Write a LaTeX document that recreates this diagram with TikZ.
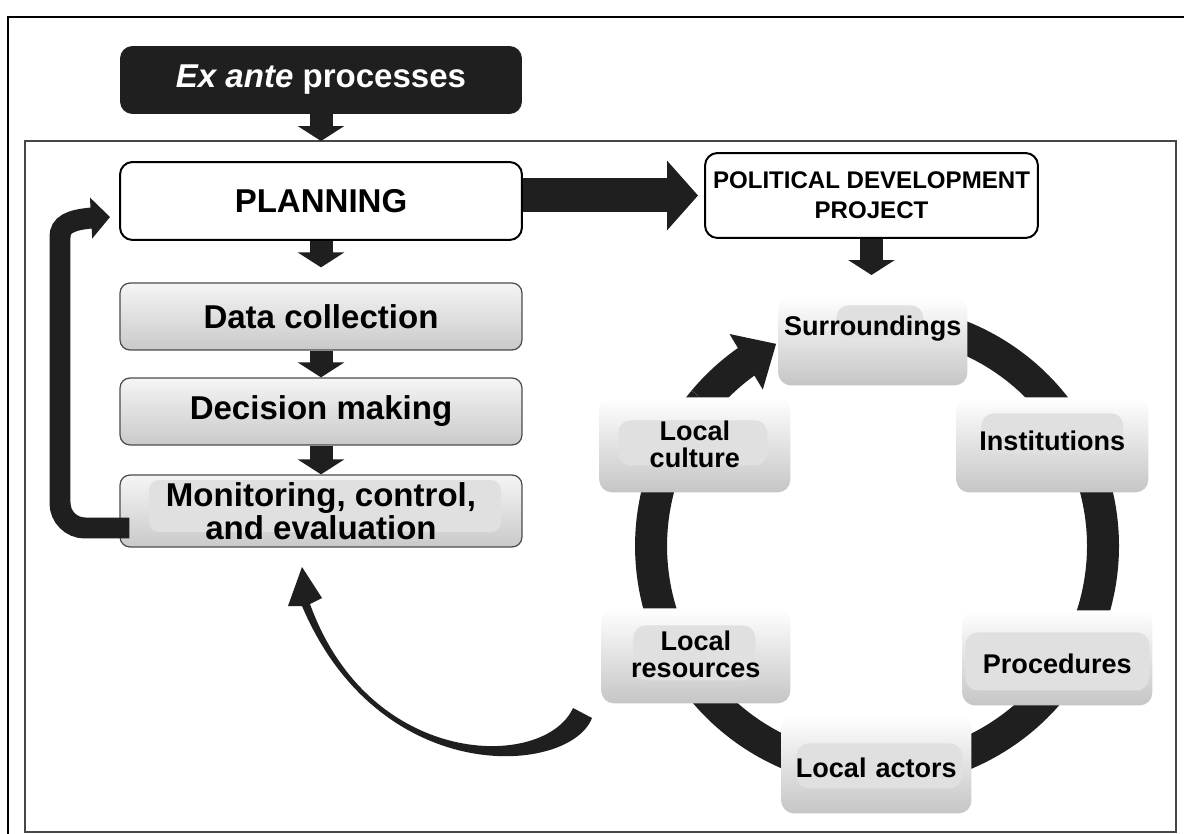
\documentclass[tikz,border=0pt]{standalone}
\usepackage{fontspec}
\setmainfont{Liberation Sans}
\usepackage{tikz}
\usetikzlibrary{arrows.meta, bending}
\newcommand{\boxfont}{\fontsize{18.8}{14.5}\selectfont\bfseries}
\newcommand{\headfont}{\fontsize{13.7}{17}\selectfont\bfseries}
\newcommand{\ringfont}{\fontsize{15.4}{15.4}\selectfont\bfseries}

\begin{document}
\begin{tikzpicture}[
  x=0.02cm, y=-0.02cm,
  plainbox/.style={draw, line width=0.04cm, rounded corners=0.25cm, fill=white, align=center, inner sep=0pt},
  stagebox/.style={draw=gray!60!black, line width=0.025cm, rounded corners=0.2cm, top color=gray!8, bottom color=gray!42,
    minimum width=8.04cm, minimum height=1.34cm, align=center, font=\boxfont, inner sep=0pt},
  ringbox/.style={rounded corners=0.25cm, top color=white, bottom color=gray!45, anchor=north west,
    align=center, font=\ringfont, inner sep=0pt},
  patch/.style n args={4}{path picture={\fill[gray!24] ([shift={(#1,#2)}]path picture bounding box.north west) rectangle ++(#3,#4);}},
  blockarrow/.style={draw=black!88, line width=0.46cm, -{Triangle[length=0.3cm, width=0.92cm]}},
  bigarrow/.style={draw=black!88, line width=0.68cm, -{Triangle[length=0.62cm, width=1.36cm]}},
  loopback/.style={draw=black!88, line width=0.42cm, -{Triangle[length=0.38cm, width=0.8cm]}},
  ring/.style={draw=black!88, line width=0.64cm}
]
\clip (0,0) rectangle (1184,834);
\fill[white] (0,0) rectangle (1184,834);
\draw[line width=0.05cm] (8,17) rectangle (1200,850);
\draw[gray!55!black, line width=0.045cm] (25,141) rectangle (1176,832);

\node[fill=black!88, rounded corners=0.25cm, minimum width=8.04cm, minimum height=1.36cm, text=white, font=\boxfont] (exante) at (321,80) {\itshape Ex ante\upshape\ processes};
\node[plainbox, minimum width=8.04cm, minimum height=1.56cm, font=\boxfont] (planning) at (321,201) {PLANNING};
\node[plainbox, minimum width=6.66cm, minimum height=1.7cm, font=\headfont] (project) at (871.5,195.5) {POLITICAL DEVELOPMENT\\PROJECT};

\node[stagebox] (data) at (321,316.5) {Data collection};
\node[stagebox] (decision) at (321,411.5) {Decision making};
\node[stagebox, minimum height=1.44cm, patch={29}{5}{352}{52}] (monitoring) at (321,511) {Monitoring, control,\\and evaluation};

\coordinate (hub) at (877,546);
\draw[ring] ([shift={(113:4.52cm)}]hub) arc[start angle=113, end angle=-220, radius=4.52cm];
\draw[ring, -{Triangle[length=0.7cm, width=1.25cm]}] ([shift={(140:4.52cm)}]hub) arc[start angle=140, end angle=116.5, radius=4.52cm];

\node[ringbox, text width=3.78cm, text height=0.76cm, text depth=1.0cm, patch={58}{8}{87}{32}] (surroundings) at (778,297) {Surroundings};
\node[ringbox, text width=3.84cm, text height=1.06cm, text depth=0.84cm, patch={25}{16}{142}{40}] (institutions) at (956,397) {Institutions};
\node[ringbox, text width=3.8cm, text height=1.26cm, text depth=0.64cm, patch={3}{22}{184}{58}] (procedures) at (962,610) {Procedures};
\node[ringbox, text width=3.8cm, text height=1.24cm, text depth=0.72cm, patch={15}{28}{166}{45}] (actors) at (781,715) {Local actors};
\node[ringbox, text width=3.78cm, text height=0.84cm, text depth=1.06cm, patch={32}{17}{122}{55}] (resources) at (601,608) {Local\\resources};
\node[ringbox, text width=3.82cm, text height=0.86cm, text depth=1.04cm, patch={19}{23}{149}{45}] (culture) at (599,397) {Local\\culture};

\draw[blockarrow, shorten >=0.4cm] (exante) -- (planning);
\draw[blockarrow, shorten >=0.3cm] (planning) -- (data);
\draw[blockarrow] (data) -- (decision);
\draw[blockarrow] (decision) -- (monitoring);
\draw[blockarrow, shorten >=0.44cm] (project) -- (surroundings.north -| project);
\draw[bigarrow, shorten >=0.12cm] (planning.east |- project) -- (project.west);

\draw[loopback] ([shift={(10,17)}]monitoring.west) [rounded corners=0.5cm] -| (60,262) [sharp corners]
  .. controls (60,222) and (75,218) .. ([shift={(-9,16)}]planning.west);

\fill[black!88] (592,718) .. controls (570,775) and (380,790) .. (302,606) -- (288,606) -- (302,567)
  -- (322,598) -- (310,604) .. controls (370,770) and (545,770) .. (573,708) -- cycle;
\end{tikzpicture}
\end{document}
